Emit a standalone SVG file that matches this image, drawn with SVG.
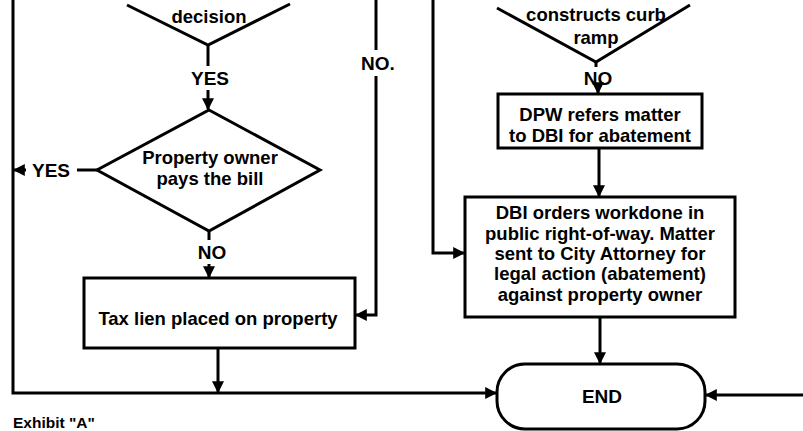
<svg xmlns="http://www.w3.org/2000/svg" width="803" height="431" viewBox="0 0 803 431">
<defs>
<style>
.ln{fill:none;stroke:#000;stroke-width:3;stroke-linejoin:miter}
.sh{fill:#fff;stroke:#000;stroke-width:3}
.t{font-family:"Liberation Sans",Arial,sans-serif;font-weight:bold;font-size:18.5px;fill:#000;text-anchor:middle}
.lb{font-family:"Liberation Sans",Arial,sans-serif;font-weight:bold;font-size:19px;fill:#000;text-anchor:middle}
</style>
<marker id="ah" viewBox="0 0 10 10" refX="9" refY="5" markerWidth="4" markerHeight="4" orient="auto-start-reverse">
<path d="M0,0 L10,5 L0,10 z" fill="#000"/>
</marker>
</defs>
<rect width="803" height="431" fill="#fff"/>

<g id="decision-top">
<polyline class="ln" points="127,5 208,45 290,4"/>
<text class="t" x="209" y="23">decision</text>
</g>

<g id="curb-decision">
<polyline class="ln" points="497,8 596,62 690,5"/>
<text class="t" x="596" y="21">constructs curb</text>
<text class="t" x="596" y="44">ramp</text>
</g>

<g id="pays-bill">
<polygon class="sh" points="209,110 320,170 209,231 97,170"/>
<text class="t" x="210" y="164">Property owner</text>
<text class="t" x="210" y="185">pays the bill</text>
</g>

<g id="tax-lien">
<rect class="sh" x="84" y="278" width="271" height="70"/>
<text class="t" x="218" y="325">Tax lien placed on property</text>
</g>

<g id="dpw-refers">
<rect class="sh" x="498" y="94" width="204" height="54"/>
<text class="t" x="600" y="121">DPW refers matter</text>
<text class="t" x="600" y="142">to DBI for abatement</text>
</g>

<g id="dbi-orders">
<rect class="sh" x="465" y="197" width="270" height="120"/>
<text class="t" x="600" y="219">DBI orders workdone in</text>
<text class="t" x="600" y="240">public right-of-way. Matter</text>
<text class="t" x="600" y="260">sent to City Attorney for</text>
<text class="t" x="600" y="280">legal action (abatement)</text>
<text class="t" x="600" y="301">against property owner</text>
</g>

<g id="end">
<rect class="sh" x="497" y="364" width="208" height="65" rx="28" ry="28"/>
<text class="lb" x="602" y="403">END</text>
</g>

<g id="connectors">
<line class="ln" x1="208" y1="45" x2="208" y2="66"/>
<line class="ln" x1="208" y1="90" x2="208" y2="109" marker-end="url(#ah)"/>
<line class="ln" x1="97" y1="170" x2="77" y2="170"/>
<line class="ln" x1="26" y1="170" x2="14" y2="170" marker-end="url(#ah)"/>
<line class="ln" x1="209" y1="231" x2="209" y2="240"/>
<line class="ln" x1="209" y1="264" x2="209" y2="277" marker-end="url(#ah)"/>
<line class="ln" x1="376" y1="0" x2="376" y2="50"/>
<polyline class="ln" points="376,76 376,315 356,315" marker-end="url(#ah)"/>
<line class="ln" x1="218" y1="348" x2="218" y2="392" marker-end="url(#ah)"/>
<polyline class="ln" points="13,0 13,393 496,393" marker-end="url(#ah)"/>
<polyline class="ln" points="433,0 433,253 464,253" marker-end="url(#ah)"/>
<line class="ln" x1="596" y1="62" x2="596" y2="67"/>
<line class="ln" x1="598" y1="88" x2="598" y2="93" marker-end="url(#ah)"/>
<line class="ln" x1="599" y1="148" x2="599" y2="196" marker-end="url(#ah)"/>
<line class="ln" x1="600" y1="317" x2="600" y2="363" marker-end="url(#ah)"/>
<line class="ln" x1="803" y1="395" x2="706" y2="395" marker-end="url(#ah)"/>
</g>

<g id="labels">
<text class="lb" x="210" y="85">YES</text>
<text class="lb" x="51" y="177">YES</text>
<text class="lb" x="212" y="259">NO</text>
<text class="lb" x="378" y="70">NO.</text>
<text class="lb" x="598" y="85">NO</text>
<text x="13" y="428" style="font-family:'Liberation Sans',Arial,sans-serif;font-weight:bold;font-size:15.5px">Exhibit "A"</text>
</g>
</svg>
